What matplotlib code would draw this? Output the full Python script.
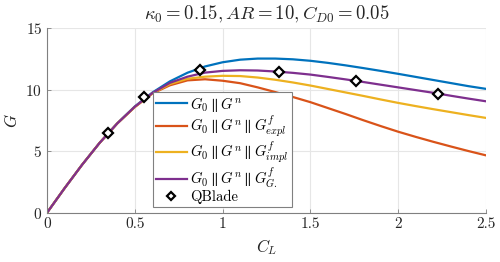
import matplotlib
matplotlib.use("Agg")
import matplotlib.pyplot as plt

plt.rcParams['mathtext.fontset'] = 'cm'
plt.rcParams['font.family'] = ['cmr10', 'DejaVu Serif']
plt.rcParams['axes.formatter.use_mathtext'] = True

CL = [0.0, 0.1, 0.2, 0.3, 0.4, 0.5, 0.6, 0.7, 0.8, 0.9, 1.0, 1.1, 1.2,
      1.3, 1.4, 1.5, 1.6, 1.7, 1.8, 1.9, 2.0, 2.1, 2.2, 2.3, 2.4, 2.5]
G_n = [0.0, 1.99, 3.90, 5.68, 7.26, 8.63, 9.76, 10.67, 11.37, 11.88, 12.22, 12.43, 12.52,
       12.52, 12.46, 12.34, 12.17, 11.97, 11.75, 11.52, 11.28, 11.03, 10.78, 10.53, 10.28, 10.06]
G_expl = [0.0, 1.99, 3.90, 5.68, 7.25, 8.58, 9.68, 10.35, 10.75, 10.84, 10.72, 10.52, 10.18,
          9.80, 9.40, 8.98, 8.50, 8.02, 7.52, 7.04, 6.58, 6.16, 5.76, 5.38, 5.01, 4.66]
G_impl = [0.0, 1.99, 3.90, 5.68, 7.25, 8.59, 9.70, 10.45, 10.88, 11.05, 11.12, 11.10, 10.98,
          10.80, 10.58, 10.33, 10.05, 9.77, 9.49, 9.20, 8.92, 8.66, 8.41, 8.17, 7.93, 7.70]
G_G = [0.0, 1.99, 3.90, 5.68, 7.25, 8.61, 9.72, 10.55, 11.05, 11.38, 11.52, 11.57, 11.55,
       11.47, 11.36, 11.22, 11.03, 10.83, 10.62, 10.40, 10.18, 9.96, 9.74, 9.50, 9.27, 9.05]

qb_CL = [0.348, 0.553, 0.873, 1.324, 1.760, 2.229]
qb_G = [6.51, 9.40, 11.62, 11.43, 10.70, 9.68]

fig = plt.figure(figsize=(5.0, 2.62), dpi=100)
ax = fig.add_axes([0.094, 0.188, 0.878, 0.705])

ax.plot(CL, G_n, color='#0072BD', lw=1.6, label=r'$G_0 \parallel G^n$')
ax.plot(CL, G_expl, color='#D95319', lw=1.6, label=r'$G_0 \parallel G^n \parallel G^f_{expl}$')
ax.plot(CL, G_impl, color='#EDB120', lw=1.6, label=r'$G_0 \parallel G^n \parallel G^f_{impl}$')
ax.plot(CL, G_G, color='#7E2F8E', lw=1.6, label=r'$G_0 \parallel G^n \parallel G^f_{G.}$')
ax.plot(qb_CL, qb_G, linestyle='none', marker='D', ms=5, mfc='white', mec='black',
        mew=1.6, label='QBlade')

ax.set_xlim(0, 2.5)
ax.set_ylim(0, 15)
ax.set_xticks([0, 0.5, 1, 1.5, 2, 2.5])
ax.set_xticklabels(['0', '0.5', '1', '1.5', '2', '2.5'])
ax.set_yticks([0, 5, 10, 15])
ax.grid(True, color='#e6e6e6', lw=0.8)
ax.set_axisbelow(True)
for s in ['top', 'right']:
    ax.spines[s].set_visible(False)
for s in ['left', 'bottom']:
    ax.spines[s].set_color('#808080')
    ax.spines[s].set_linewidth(0.8)
ax.tick_params(direction='in', length=3, width=0.6, colors='#808080',
               labelcolor='#262626', labelsize=11)

ax.set_xlabel(r'$C_L$', fontsize=12, color='#262626')
ax.set_ylabel(r'$G$', fontsize=12, color='#262626')
ax.set_title(r'$\kappa_0 = 0.15, AR = 10, C_{D0} = 0.05$', fontsize=13.5, color='#262626', pad=6)

leg = ax.legend(loc='lower left', bbox_to_anchor=(0.241, 0.031), fontsize=10.6,
                fancybox=False, framealpha=1, edgecolor='#808080', borderpad=0.2,
                labelspacing=0.0, handlelength=2.1, handletextpad=0.25, borderaxespad=0,
                markerscale=0.9)
leg.get_frame().set_linewidth(0.8)

fig.savefig('out.png', dpi=100)
